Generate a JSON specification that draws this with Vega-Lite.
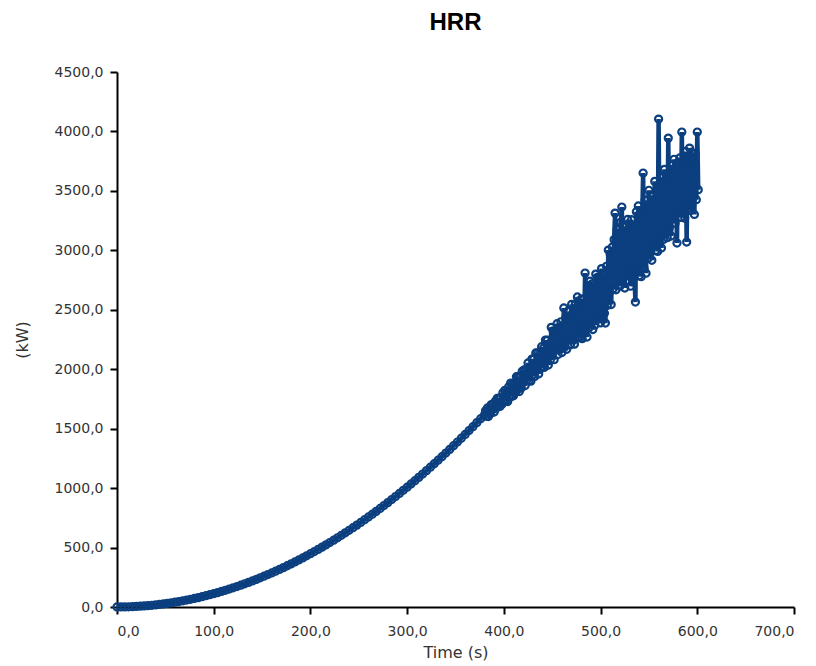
{
  "$schema": "https://vega.github.io/schema/vega-lite/v6.json",
  "width": 677,
  "height": 535,
  "autosize": {"type": "none"},
  "padding": {"left": 117, "top": 72, "right": 22, "bottom": 59},
  "background": "white",
  "title": {"text": "HRR", "fontSize": 24, "font": "Liberation Sans", "fontWeight": "bold", "color": "#000000", "anchor": "middle", "offset": 30},
  "config": {"view": {"stroke": null}},
  "data": {"values": [
    {"t":0,"hrr":0},{"t":4,"hrr":0.2},{"t":8,"hrr":0.7},{"t":12,"hrr":1.6},{"t":16,"hrr":2.9},{"t":20,"hrr":4.5},{"t":24,"hrr":6.5},{"t":28,"hrr":8.8},{"t":32,"hrr":11.5},{"t":36,"hrr":14.5},{"t":40,"hrr":17.9},{"t":44,"hrr":21.7},{"t":48,"hrr":25.8},{"t":52,"hrr":30.3},{"t":56,"hrr":35.1},{"t":60,"hrr":40.3},{"t":64,"hrr":45.9},{"t":68,"hrr":51.8},{"t":72,"hrr":58.1},{"t":76,"hrr":64.7},{"t":80,"hrr":71.7},{"t":84,"hrr":79.0},{"t":88,"hrr":86.7},{"t":92,"hrr":94.8},{"t":96,"hrr":103.2},{"t":100,"hrr":112.0},{"t":104,"hrr":121.1},{"t":108,"hrr":130.6},{"t":112,"hrr":140.5},{"t":116,"hrr":150.7},{"t":120,"hrr":161.3},{"t":124,"hrr":172.2},{"t":128,"hrr":183.5},{"t":132,"hrr":195.2},{"t":136,"hrr":207.2},{"t":140,"hrr":219.5},{"t":144,"hrr":232.2},{"t":148,"hrr":245.3},{"t":152,"hrr":258.8},{"t":156,"hrr":272.6},{"t":160,"hrr":286.7},{"t":164,"hrr":301.2},{"t":168,"hrr":316.1},{"t":172,"hrr":331.3},{"t":176,"hrr":346.9},{"t":180,"hrr":362.9},{"t":184,"hrr":379.2},{"t":188,"hrr":395.9},{"t":192,"hrr":412.9},{"t":196,"hrr":430.3},{"t":200,"hrr":448.0},{"t":204,"hrr":466.1},{"t":208,"hrr":484.6},{"t":212,"hrr":503.4},{"t":216,"hrr":522.6},{"t":220,"hrr":542.1},{"t":224,"hrr":562.0},{"t":228,"hrr":582.2},{"t":232,"hrr":602.8},{"t":236,"hrr":623.8},{"t":240,"hrr":645.1},{"t":244,"hrr":666.8},{"t":248,"hrr":688.8},{"t":252,"hrr":711.2},{"t":256,"hrr":734.0},{"t":260,"hrr":757.1},{"t":264,"hrr":780.6},{"t":268,"hrr":804.4},{"t":272,"hrr":828.6},{"t":276,"hrr":853.2},{"t":280,"hrr":878.1},{"t":284,"hrr":903.4},{"t":288,"hrr":929.0},{"t":292,"hrr":955.0},{"t":296,"hrr":981.3},{"t":300,"hrr":1008.0},{"t":304,"hrr":1035.1},{"t":308,"hrr":1062.5},{"t":312,"hrr":1090.3},{"t":316,"hrr":1118.4},{"t":320,"hrr":1146.9},{"t":324,"hrr":1175.7},{"t":328,"hrr":1204.9},{"t":332,"hrr":1234.5},{"t":336,"hrr":1264.4},{"t":340,"hrr":1294.7},{"t":344,"hrr":1325.4},{"t":348,"hrr":1356.4},{"t":352,"hrr":1387.7},{"t":356,"hrr":1419.4},{"t":360,"hrr":1451.5},{"t":364,"hrr":1484.0},{"t":368,"hrr":1516.8},{"t":372,"hrr":1549.9},{"t":376,"hrr":1583.4},{"t":380,"hrr":1617.3},
    {"t":381,"hrr":1650},{"t":382,"hrr":1604},{"t":383,"hrr":1674},{"t":384,"hrr":1602},{"t":385,"hrr":1664},{"t":386,"hrr":1625},{"t":387,"hrr":1702},{"t":388,"hrr":1657},{"t":389,"hrr":1704},{"t":390,"hrr":1640},
    {"t":391,"hrr":1729},{"t":392,"hrr":1672},{"t":393,"hrr":1754},{"t":394,"hrr":1696},{"t":395,"hrr":1756},{"t":396,"hrr":1687},{"t":397,"hrr":1762},{"t":398,"hrr":1706},{"t":399,"hrr":1802},{"t":400,"hrr":1735},
    {"t":401,"hrr":1823},{"t":402,"hrr":1733},{"t":403,"hrr":1809},{"t":404,"hrr":1728},{"t":405,"hrr":1852},{"t":406,"hrr":1775},{"t":407,"hrr":1883},{"t":408,"hrr":1770},{"t":409,"hrr":1873},{"t":410,"hrr":1777},
    {"t":411,"hrr":1869},{"t":412,"hrr":1806},{"t":413,"hrr":1937},{"t":414,"hrr":1828},{"t":415,"hrr":1940},{"t":416,"hrr":1812},{"t":417,"hrr":1934},{"t":418,"hrr":1842},{"t":419,"hrr":1983},{"t":420,"hrr":1888},
    {"t":421,"hrr":1994},{"t":422,"hrr":1863},{"t":423,"hrr":1998},{"t":424,"hrr":1913},{"t":425,"hrr":2053},{"t":426,"hrr":1903},{"t":427,"hrr":2019},{"t":428,"hrr":1900},{"t":429,"hrr":2085},{"t":430,"hrr":1953},
    {"t":431,"hrr":2087},{"t":432,"hrr":1940},{"t":433,"hrr":2137},{"t":434,"hrr":2016},{"t":435,"hrr":2137},{"t":436,"hrr":1960},{"t":437,"hrr":2126},{"t":438,"hrr":2007},{"t":439,"hrr":2189},{"t":440,"hrr":2012},
    {"t":441,"hrr":2177},{"t":442,"hrr":2016},{"t":443,"hrr":2245},{"t":444,"hrr":2079},{"t":445,"hrr":2244},{"t":446,"hrr":2035},{"t":447,"hrr":2216},{"t":448,"hrr":2075},{"t":449,"hrr":2352},{"t":450,"hrr":2117},
    {"t":451,"hrr":2323},{"t":452,"hrr":2080},{"t":453,"hrr":2319},{"t":454,"hrr":2178},{"t":455,"hrr":2383},{"t":456,"hrr":2124},{"t":457,"hrr":2334},{"t":458,"hrr":2169},{"t":459,"hrr":2399},{"t":460,"hrr":2140},
    {"t":461,"hrr":2207},{"t":462,"hrr":2515},{"t":463,"hrr":2188},{"t":464,"hrr":2434},{"t":465,"hrr":2168},{"t":466,"hrr":2487},{"t":467,"hrr":2262},{"t":468,"hrr":2422},{"t":469,"hrr":2207},{"t":470,"hrr":2545},
    {"t":471,"hrr":2254},{"t":472,"hrr":2494},{"t":473,"hrr":2211},{"t":474,"hrr":2550},{"t":475,"hrr":2335},{"t":476,"hrr":2608},{"t":477,"hrr":2272},{"t":478,"hrr":2532},{"t":479,"hrr":2264},{"t":480,"hrr":2590},
    {"t":481,"hrr":2257},{"t":482,"hrr":2589},{"t":483,"hrr":2373},{"t":484,"hrr":2809},{"t":485,"hrr":2347},{"t":486,"hrr":2271},{"t":487,"hrr":2699},{"t":488,"hrr":2348},{"t":489,"hrr":2740},{"t":490,"hrr":2449},
    {"t":491,"hrr":2717},{"t":492,"hrr":2334},{"t":493,"hrr":2670},{"t":494,"hrr":2370},{"t":495,"hrr":2800},{"t":496,"hrr":2452},{"t":497,"hrr":2775},{"t":498,"hrr":2421},{"t":499,"hrr":2771},{"t":500,"hrr":2390},
    {"t":501,"hrr":2846},{"t":502,"hrr":2489},{"t":503,"hrr":2788},{"t":504,"hrr":2470},{"t":505,"hrr":2388},{"t":506,"hrr":2866},{"t":507,"hrr":2537},{"t":508,"hrr":3002},{"t":509,"hrr":2642},{"t":510,"hrr":2964},
    {"t":511,"hrr":2544},{"t":512,"hrr":3026},{"t":513,"hrr":2677},{"t":514,"hrr":3090},{"t":515,"hrr":3313},{"t":516,"hrr":2668},{"t":517,"hrr":3173},{"t":518,"hrr":2780},{"t":519,"hrr":3183},{"t":520,"hrr":2698},
    {"t":521,"hrr":3238},{"t":522,"hrr":3364},{"t":523,"hrr":2764},{"t":524,"hrr":3202},{"t":525,"hrr":2683},{"t":526,"hrr":3157},{"t":527,"hrr":2747},{"t":528,"hrr":3260},{"t":529,"hrr":2844},{"t":530,"hrr":3214},
    {"t":531,"hrr":2698},{"t":532,"hrr":3258},{"t":533,"hrr":2734},{"t":534,"hrr":3178},{"t":535,"hrr":2803},{"t":536,"hrr":2565},{"t":537,"hrr":3325},{"t":538,"hrr":2845},{"t":539,"hrr":3373},{"t":540,"hrr":2786},
    {"t":541,"hrr":3294},{"t":542,"hrr":2778},{"t":543,"hrr":3252},{"t":544,"hrr":3650},{"t":545,"hrr":2849},{"t":546,"hrr":3422},{"t":547,"hrr":2808},{"t":548,"hrr":3348},{"t":549,"hrr":2932},{"t":550,"hrr":3505},
    {"t":551,"hrr":3023},{"t":552,"hrr":3464},{"t":553,"hrr":2916},{"t":554,"hrr":3456},{"t":555,"hrr":3040},{"t":556,"hrr":3580},{"t":557,"hrr":2999},{"t":558,"hrr":3440},{"t":559,"hrr":2991},{"t":560,"hrr":4104},
    {"t":561,"hrr":3113},{"t":562,"hrr":3614},{"t":563,"hrr":3020},{"t":564,"hrr":3567},{"t":565,"hrr":3092},{"t":566,"hrr":3681},{"t":567,"hrr":3210},{"t":568,"hrr":3634},{"t":569,"hrr":3106},{"t":570,"hrr":3944},
    {"t":571,"hrr":3191},{"t":572,"hrr":3607},{"t":573,"hrr":3120},{"t":574,"hrr":3718},{"t":575,"hrr":3327},{"t":576,"hrr":3766},{"t":577,"hrr":3227},{"t":578,"hrr":3632},{"t":579,"hrr":3061},{"t":580,"hrr":3740},
    {"t":581,"hrr":3326},{"t":582,"hrr":3778},{"t":583,"hrr":3277},{"t":584,"hrr":3995},{"t":585,"hrr":3378},{"t":586,"hrr":3736},{"t":587,"hrr":3271},{"t":588,"hrr":3832},{"t":589,"hrr":3070},{"t":590,"hrr":3724},
    {"t":591,"hrr":3353},{"t":592,"hrr":3860},{"t":593,"hrr":3335},{"t":594,"hrr":3827},{"t":595,"hrr":3433},{"t":596,"hrr":3779},{"t":597,"hrr":3302},{"t":598,"hrr":3816},{"t":599,"hrr":3426},{"t":600,"hrr":3995},{"t":601,"hrr":3510}
  ]},
  "encoding": {
    "x": {"field": "t", "type": "quantitative", "title": "Time (s)",
      "scale": {"domain": [0, 700], "nice": false},
      "axis": {"values": [0,100,200,300,400,500,600,700], "labelExpr": "replace(format(datum.value, '.1f'), '.', ',')",
        "grid": false, "domainColor": "#000000", "domainWidth": 2, "tickColor": "#000000", "tickWidth": 2, "tickSize": 7,
        "labelFont": "DejaVu Sans", "labelFontSize": 14, "labelColor": "#333333", "labelPadding": 10,
        "titleFont": "DejaVu Sans", "titleFontSize": 16, "titleFontWeight": "normal", "titleColor": "#333333", "titlePadding": 6}},
    "y": {"field": "hrr", "type": "quantitative", "title": "(kW)",
      "scale": {"domain": [0, 4500], "nice": false},
      "axis": {"values": [0,500,1000,1500,2000,2500,3000,3500,4000,4500], "labelExpr": "replace(format(datum.value, '.1f'), '.', ',')",
        "grid": false, "domainColor": "#000000", "domainWidth": 2, "tickColor": "#000000", "tickWidth": 2, "tickSize": 7,
        "labelFont": "DejaVu Sans", "labelFontSize": 14, "labelColor": "#333333", "labelPadding": 7,
        "titleFont": "DejaVu Sans", "titleFontSize": 16, "titleFontWeight": "normal", "titleColor": "#333333", "titlePadding": 24}}
  },
  "layer": [
    {"mark": {"type": "line", "color": "#0b3f7f", "strokeWidth": 4.5, "clip": true}},
    {"mark": {"type": "point", "shape": "circle", "filled": false, "stroke": "#0b3f7f", "strokeWidth": 2.2, "size": 50, "opacity": 1}}
  ]
}
